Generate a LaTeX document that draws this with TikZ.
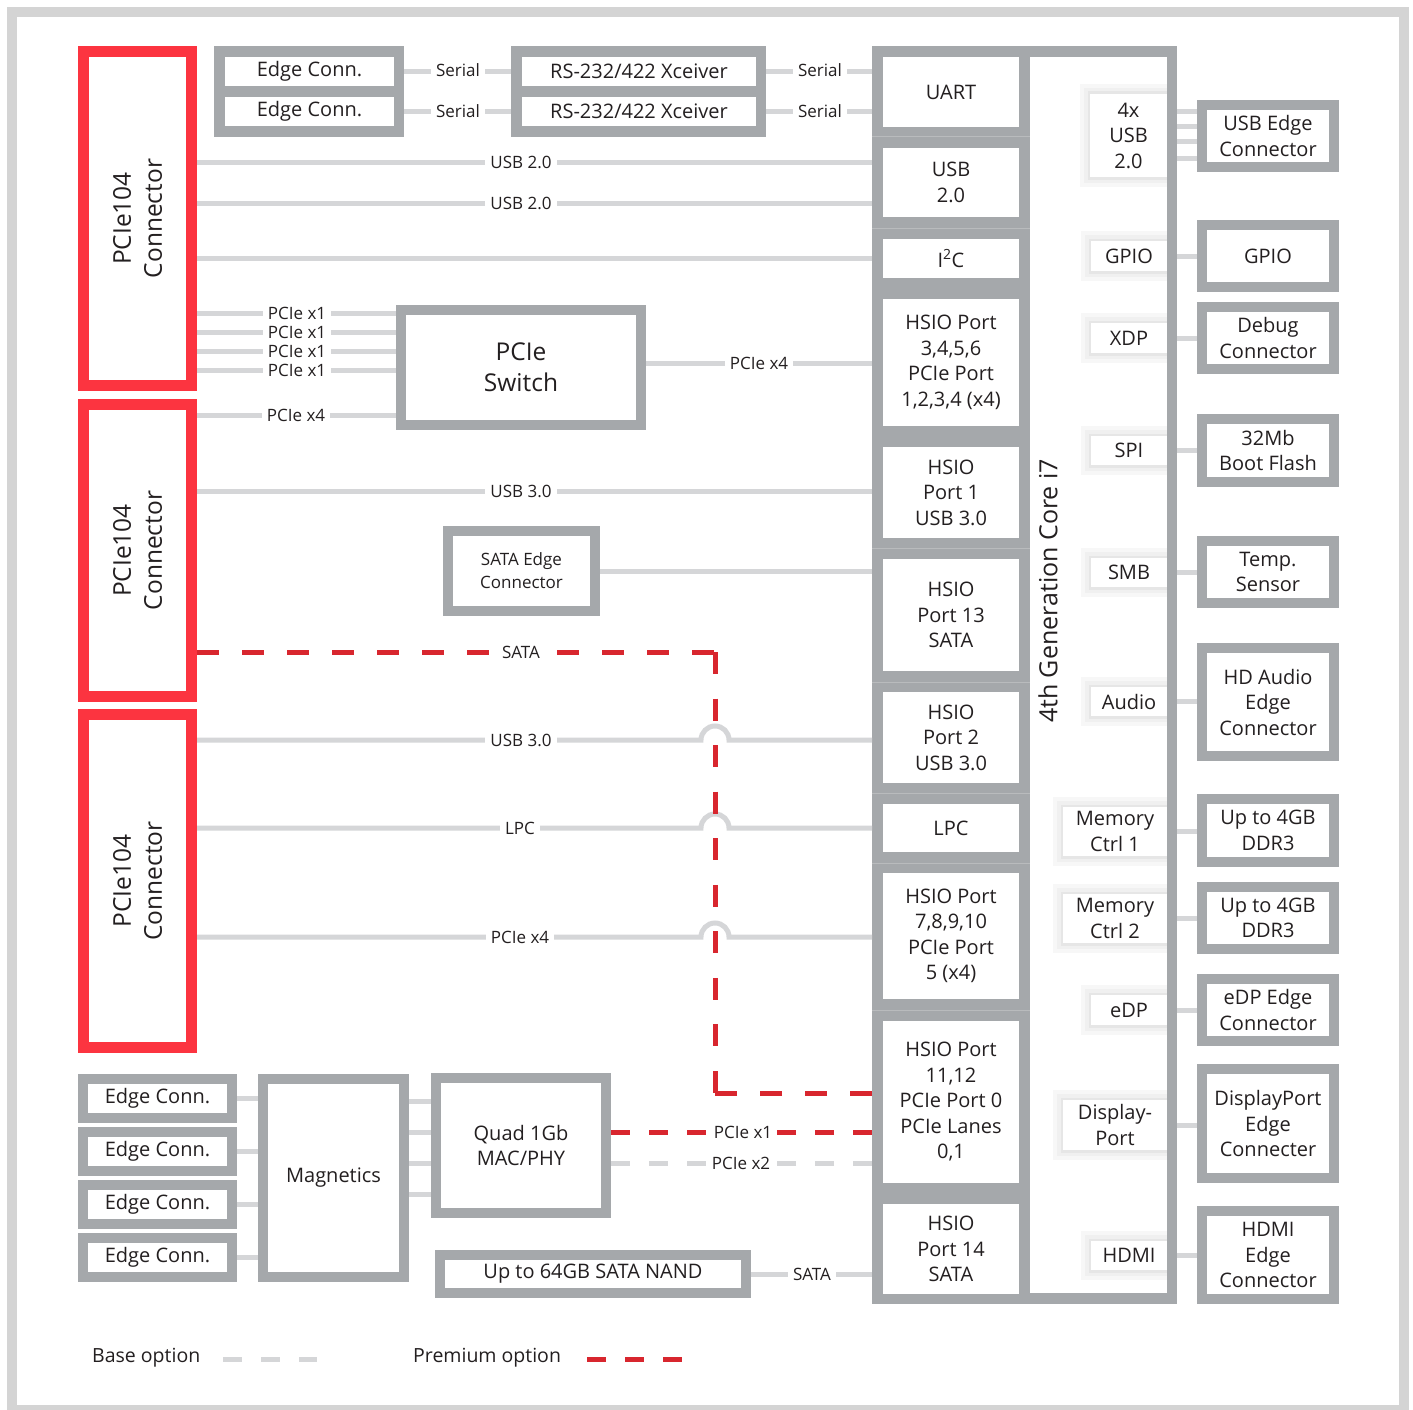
\documentclass[tikz,border=0pt]{standalone}
\usepackage{fontspec}
\setmainfont{Open Sans}
\usetikzlibrary{calc}
\definecolor{bgrey}{HTML}{A5A8AB}
\definecolor{lgrey}{HTML}{D5D6D8}
\definecolor{fgrey}{HTML}{D4D4D4}
\definecolor{redbox}{HTML}{FC3440}
\definecolor{reddash}{HTML}{D8262E}
\definecolor{txt}{HTML}{231F20}
\definecolor{shA}{HTML}{F7F7F7}
\definecolor{shB}{HTML}{F0F0F0}
\definecolor{shC}{HTML}{E6E6E6}
\definecolor{sepc}{HTML}{B9BBBD}
\newcommand\fsz[2]{\fontsize{#1}{#2}\selectfont}
\newcommand\bxG[7][]{\node[gbox,minimum width={#5-#3-10},minimum height={#6-#4-10},#1] (#2) at ({(#3+#5)/2},{(#4+#6)/2}) {#7};}
\newcommand\bxR[6]{\node[rbox,minimum width={#4-#2-11},minimum height={#5-#3-11}] (#1) at ({(#2+#4)/2},{(#3+#5)/2}) {#6};}
\newcommand\bxW[7][]{\node[wbox,minimum width={#5-#3},minimum height={#6-#4},#1] (#2) at ({(#3+#5)/2},{(#4+#6)/2}) {#7};}
\newcommand\bxF[5]{\node[gfill,minimum width={#4-#2},minimum height={#5-#3}] (#1) at ({(#2+#4)/2},{(#3+#5)/2}) {};}
\newcommand\bxS[6]{\fill[shA] ({#2-10},{#3-10}) rectangle (#4,{#5+10});
 \fill[shB] ({#2-6},{#3-6}) rectangle (#4,{#5+6});
 \fill[shC] ({#2-2.5},{#3-2.5}) rectangle (#4,{#5+2.5});
 \bxW{#1}{#2}{#3}{#4}{#5}{#6}}
\begin{document}
\begin{tikzpicture}[x=1pt,y=-1pt,
  every node/.style={text=txt, align=center, inner sep=0pt},
  gbox/.style={draw=bgrey, line width=10pt, fill=white, outer sep=5pt, font=\fsz{20}{25.5}},
  rbox/.style={draw=redbox, line width=11pt, fill=white, outer sep=5.5pt},
  wbox/.style={fill=white, outer sep=0pt, font=\fsz{20}{25.5}},
  gfill/.style={fill=bgrey, outer sep=0pt},
  conn/.style={draw=lgrey, line width=5pt},
  rconn/.style={draw=reddash, line width=5pt, dash pattern=on 22pt off 23pt},
  rconnv/.style={draw=reddash, line width=5pt, dash pattern=on 22pt off 24.56pt},
  rconnb/.style={draw=reddash, line width=5pt, dash pattern=on 19pt off 19pt},
  gconnb/.style={draw=lgrey, line width=5pt, dash pattern=on 19pt off 19pt},
  lbl/.style={fill=white, inner xsep=5pt, inner ysep=3pt, font=\fsz{17}{20}},
  sepl/.style={draw=sepc, line width=1pt},
  bigtxt/.style={font=\fsz{24.5}{31}}
]
\useasboundingbox (0,0) rectangle (1413,1410);
\fill[white] (0,0) rectangle (1413,1410);
\draw[fgrey, line width=10pt] (12,12) rectangle (1404,1410);

% PCIe104 connectors
\bxR{pc1}{78}{46}{197}{391}{}
\bxR{pc2}{78}{399}{197}{702}{}
\bxR{pc3}{78}{709}{197}{1053}{}
\node[rotate=90, bigtxt] (pc1t) at (pc1) {PCIe104\\Connector};
\node[rotate=90, bigtxt] (pc2t) at (pc2) {PCIe104\\Connector};
\node[rotate=90, bigtxt] (pc3t) at (pc3) {PCIe104\\Connector};

% top groups
\bxF{ecg}{214}{46}{404}{137}
\bxW{ec1}{225}{57}{394}{86}{Edge Conn.}
\bxW{ec2}{225}{97}{394}{126}{Edge Conn.}
\bxF{rsg}{511}{46}{766}{137}
\bxW{rs1}{522}{57}{756}{86}{RS-232/422 Xceiver}
\bxW{rs2}{522}{97}{756}{126}{RS-232/422 Xceiver}

% CPU
\bxF{cpu}{872}{46}{1177}{1304}
\fill[white] (1030,57) rectangle (1167,1293);
\foreach \y in {137,228,548,682,793,863,1010} \draw[sepl] (872,\y) -- (1030,\y);
\bxW{uart}{883}{57}{1019}{127}{UART}
\bxW{usbp}{883}{148}{1019}{217}{USB\\2.0}
\bxW{i2c}{883}{239}{1019}{278}{I\textsuperscript{2}C}
\bxW{hsa}{883}{299}{1019}{426}{HSIO Port\\3,4,5,6\\PCIe Port\\1,2,3,4 (x4)}
\bxW{hs1}{883}{447}{1019}{538}{HSIO\\Port 1\\USB 3.0}
\bxW{hs13}{883}{559}{1019}{671}{HSIO\\Port 13\\SATA}
\bxW{hs2}{883}{692}{1019}{783}{HSIO\\Port 2\\USB 3.0}
\bxW{lpc}{883}{804}{1019}{852}{LPC}
\bxW{hsb}{883}{873}{1019}{999}{HSIO Port\\7,8,9,10\\PCIe Port\\5 (x4)}
\bxW{hsc}{883}{1021}{1019}{1183}{HSIO Port\\11,12\\PCIe Port 0\\PCIe Lanes\\0,1}
\bxW{hs14}{883}{1204}{1019}{1294}{HSIO\\Port 14\\SATA}
\node[rotate=90, font=\fsz{25}{30}] (title) at (1048,591) {4th Generation Core i7};

% CPU inner function boxes
\bxS{usb4}{1090}{94}{1167}{177}{4x\\USB\\2.0}
\bxS{gpio}{1091}{241}{1167}{271}{GPIO}
\bxS{xdp}{1091}{323}{1167}{353}{XDP}
\bxS{spi}{1091}{436}{1167}{465}{SPI}
\bxS{smb}{1091}{558}{1167}{587}{SMB}
\bxS{audio}{1091}{687}{1167}{716}{Audio}
\bxS{mem1}{1063}{807}{1167}{856}{Memory\\Ctrl 1}
\bxS{mem2}{1063}{894}{1167}{943}{Memory\\Ctrl 2}
\bxS{edp}{1091}{995}{1167}{1025}{eDP}
\bxS{dp}{1063}{1100}{1167}{1150}{Display-\\Port}
\bxS{hdmi}{1091}{1241}{1167}{1270}{HDMI}

% right boxes
\bxG{usbe}{1197}{100}{1339}{172}{USB Edge\\Connector}
\bxG{gpioe}{1197}{220}{1339}{292}{GPIO}
\bxG{dbg}{1197}{302}{1339}{374}{Debug\\Connector}
\bxG{flash}{1197}{414}{1339}{487}{32Mb\\Boot Flash}
\bxG{temp}{1197}{536}{1339}{608}{Temp.\\Sensor}
\bxG{hda}{1197}{643}{1339}{761}{HD Audio\\Edge\\Connector}
\bxG{ddr1}{1197}{794}{1339}{867}{Up to 4GB\\DDR3}
\bxG{ddr2}{1197}{882}{1339}{954}{Up to 4GB\\DDR3}
\bxG{edpe}{1197}{974}{1339}{1046}{eDP Edge\\Connector}
\bxG{dpe}{1197}{1064}{1339}{1183}{DisplayPort\\Edge\\Connecter}
\bxG{hdmie}{1197}{1206}{1339}{1304}{HDMI\\Edge\\Connector}

% middle / bottom boxes
\bxG[bigtxt]{sw}{396}{305}{646}{430}{PCIe\\Switch}
\bxG[font=\fsz{17}{23}]{sata}{443}{526}{600}{616}{SATA Edge\\Connector}
\bxG{quad}{431}{1073}{611}{1218}{Quad 1Gb\\MAC/PHY}
\bxG{nand}{435}{1250}{751}{1298}{Up to 64GB SATA NAND}
\bxG{mag}{258}{1074}{409}{1282}{Magnetics}
\bxG{e1}{78}{1074}{237}{1123}{Edge Conn.}
\bxG{e2}{78}{1127}{237}{1176}{Edge Conn.}
\bxG{e3}{78}{1180}{237}{1229}{Edge Conn.}
\bxG{e4}{78}{1233}{237}{1282}{Edge Conn.}

% connectors: top
\draw[conn] (ecg.east |- ec1) -- (rsg.west |- ec1);
\draw[conn] (ecg.east |- ec2) -- (rsg.west |- ec2);
\draw[conn] (rsg.east |- rs1) -- (cpu.west |- rs1);
\draw[conn] (rsg.east |- rs2) -- (cpu.west |- rs2);
% left long lines
\draw[conn] (pc1.east |- 0,162) -- (cpu.west |- 0,162);
\draw[conn] (pc1.east |- 0,203) -- (cpu.west |- 0,203);
\draw[conn] (pc1.east |- i2c) -- (cpu.west |- i2c);
\foreach \y in {313,332,351,370} \draw[conn] (pc1.east |- 0,\y) -- (sw.west |- 0,\y);
\draw[conn] (pc2.east |- 0,415) -- (sw.west |- 0,415);
\draw[conn] (sw.east |- 0,363) -- (cpu.west |- 0,363);
\draw[conn] (pc2.east |- 0,491) -- (cpu.west |- 0,491);
\draw[conn] (sata.east |- 0,571) -- (cpu.west |- 0,571);
\foreach \y in {740,828,937}
  \draw[conn] (pc3.east |- 0,\y) -- (701,\y) arc[start angle=180,end angle=360,radius=14] -- (cpu.west |- 0,\y);
% bottom
\foreach \e in {e1,e2,e3,e4} \draw[conn] (\e.east) -- (mag.west |- \e.east);
\foreach \y in {1101,1132,1163,1194} \draw[conn] (mag.east |- 0,\y) -- (quad.west |- 0,\y);
\node[lbl] (l18) at (743,1132) {PCIe x1};
\node[lbl] (l19) at (741,1163) {PCIe x2};
\draw[rconnb] (quad.east |- l18) -- (l18.west);
\draw[rconnb] (cpu.west |- l18) -- (l18.east);
\draw[gconnb] (quad.east |- l19) -- (l19.west);
\draw[gconnb] (cpu.west |- l19) -- (l19.east);
\draw[conn] (nand.east) -- (cpu.west |- nand.east);
% SATA premium
\coordinate (sb1) at (715,652);
\coordinate (sb2) at (715,1093);
\draw[rconn] (pc2.east |- sb1) -- (sb1);
\draw[rconnv] (sb1) -- (sb2);
\draw[rconn] (cpu.west |- sb2) -- (sb2);
% right
\foreach \y in {112,127,142,158} \draw[conn] (cpu.east |- 0,\y) -- (usbe.west |- 0,\y);
\draw[conn] (cpu.east |- gpio) -- (gpioe.west |- gpio);
\draw[conn] (cpu.east |- xdp) -- (dbg.west |- xdp);
\draw[conn] (cpu.east |- spi) -- (flash.west |- spi);
\draw[conn] (cpu.east |- smb) -- (temp.west |- smb);
\draw[conn] (cpu.east |- audio) -- (hda.west |- audio);
\draw[conn] (cpu.east |- mem1) -- (ddr1.west |- mem1);
\draw[conn] (cpu.east |- mem2) -- (ddr2.west |- mem2);
\draw[conn] (cpu.east |- edp) -- (edpe.west |- edp);
\draw[conn] (cpu.east |- dp) -- (dpe.west |- dp);
\draw[conn] (cpu.east |- hdmi) -- (hdmie.west |- hdmi);

% labels
\node[lbl] (l1) at (458,70.5) {Serial};
\node[lbl] (l2) at (458,111.5) {Serial};
\node[lbl] (l3) at (820,70.5) {Serial};
\node[lbl] (l4) at (820,111.5) {Serial};
\node[lbl] (l5) at (521,162) {USB 2.0};
\node[lbl] (l6) at (521,203) {USB 2.0};
\node[lbl] (l7) at (297,313) {PCIe x1};
\node[lbl] (l8) at (297,332) {PCIe x1};
\node[lbl] (l9) at (297,351) {PCIe x1};
\node[lbl] (l10) at (297,370) {PCIe x1};
\node[lbl] (l11) at (296,415) {PCIe x4};
\node[lbl] (l12) at (759,363) {PCIe x4};
\node[lbl] (l13) at (521,491) {USB 3.0};
\node[lbl] (l14) at (521,652) {SATA};
\node[lbl] (l15) at (521,740) {USB 3.0};
\node[lbl] (l16) at (520,828) {LPC};
\node[lbl] (l17) at (520,937) {PCIe x4};
\node[lbl] (l20) at (812,1274) {SATA};

% legend
\node[anchor=west, font=\fsz{19.5}{24}] (lgb) at (92,1358) {Base option};
\coordinate (lgb1) at (223,1359);
\coordinate (lgb2) at (317,1359);
\draw[gconnb] (lgb1) -- (lgb2);
\node[anchor=west, font=\fsz{19.5}{24}] (lgp) at (413,1358) {Premium option};
\coordinate (lgp1) at (587,1359);
\coordinate (lgp2) at (683,1359);
\draw[rconnb] (lgp1) -- (lgp2);
\end{tikzpicture}
\end{document}
